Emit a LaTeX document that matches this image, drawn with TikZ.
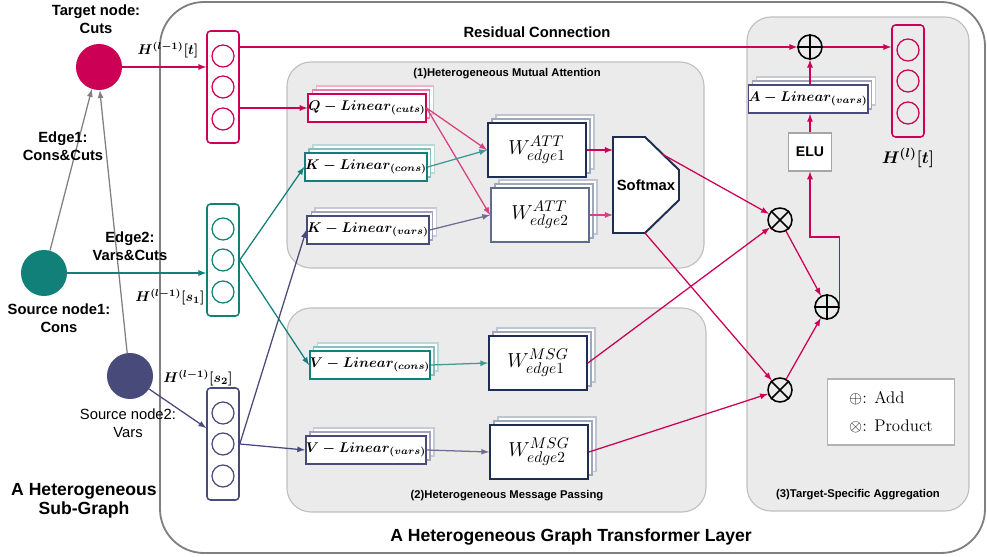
\documentclass[tikz,border=0pt]{standalone}
\usepackage{amsmath,amssymb}
\usepackage{fontspec}
\setsansfont{Liberation Sans}
\usetikzlibrary{calc,shadows}

\definecolor{cutred}{RGB}{204,0,85}
\definecolor{consteal}{RGB}{16,128,120}
\definecolor{varsnavy}{RGB}{72,74,122}
\definecolor{wnavy}{RGB}{30,46,82}
\definecolor{wslate}{RGB}{95,108,140}
\definecolor{panelgray}{RGB}{235,235,235}
\definecolor{linegray}{RGB}{128,128,128}

\newcommand{\lblfont}{\sffamily\bfseries\fontsize{10.5}{12.8}\selectfont}
\newcommand{\panelfont}{\sffamily\bfseries\fontsize{8}{10}\selectfont}
\newcommand{\titlefont}{\sffamily\bfseries\fontsize{12.5}{13.5}\selectfont}
\newcommand{\mathfont}{\boldmath\fontsize{10}{12}\selectfont}

\tikzset{
  gnode/.style={circle,fill=#1,minimum size=1.15cm,inner sep=0pt},
  lbl/.style={font=\lblfont,align=center},
  vecbox/.style={draw=#1,rounded corners=2.5pt,line width=1.1pt,minimum width=0.8cm,minimum height=2.8cm,inner sep=0pt},
  unit/.style={draw=#1,circle,line width=0.9pt,minimum size=0.55cm,inner sep=0pt},
  linbox/.style={draw=#1,fill=white,line width=1.3pt,minimum width=2.85cm,minimum height=0.7cm,inner sep=0pt,font=\mathfont,
    copy shadow={shadow xshift=5.6pt,shadow yshift=5.6pt,draw=#1!30,fill=white,line width=0.9pt},
    copy shadow={shadow xshift=2.8pt,shadow yshift=2.8pt,draw=#1!50,fill=white,line width=0.9pt}},
  wbox/.style={draw=#1,fill=white,line width=1.3pt,minimum width=2.45cm,minimum height=1.35cm,inner sep=0pt,font=\fontsize{15}{17}\selectfont,
    copy shadow={shadow xshift=5.6pt,shadow yshift=5.6pt,draw=wslate!40,fill=white,line width=0.9pt},
    copy shadow={shadow xshift=2.8pt,shadow yshift=2.8pt,draw=wslate!60,fill=white,line width=0.9pt}},
  panel/.style={fill=panelgray,draw=black!25,line width=0.8pt,rounded corners=0.6cm},
  op/.style={circle,draw,line width=1.1pt,minimum size=0.6cm,inner sep=0pt},
  arr/.style={-latex,line width=0.9pt},
}

\begin{document}
\begin{tikzpicture}[x=0.025cm,y=-0.025cm]
\useasboundingbox (0,0) rectangle (987,557);
% frames
\draw[linegray,line width=1.3pt,rounded corners=1.1cm] (160,2) rectangle (985,553);
\draw[panel] (287,62) rectangle (704,268);
\draw[panel] (287,308) rectangle (706,512);
\draw[panel] (747,17) rectangle (969,511);
\node[font=\panelfont] (attlbl) at (507,74) {(1)Heterogeneous Mutual Attention};
\node[font=\panelfont] (msglbl) at (507,496) {(2)Heterogeneous Message Passing};
\node[font=\panelfont] (agglbl) at (858,495) {(3)Target-Specific Aggregation};
\node[font=\titlefont] (layerlbl) at (571,537) {A Heterogeneous Graph Transformer Layer};
\node[font=\titlefont,align=center] (sublbl) at (84,501) {A Heterogeneous\\Sub-Graph};
\node[font=\lblfont] (reslbl) at (537,32) {Residual Connection};

% sub-graph
\node[gnode=cutred] (tgt) at (99,67) {};
\node[gnode=consteal] (src1) at (44,273) {};
\node[gnode=varsnavy] (src2) at (130,376) {};
\node[lbl] (tgtlbl) at (96,19) {Target node:\\Cuts};
\node[lbl] (src1lbl) at (59,318) {Source node1:\\Cons};
\node[lbl,font=\sffamily\fontsize{10.5}{12.8}\selectfont] (src2lbl) at (128,423) {Source node2:\\Vars};
\draw[arr,linegray] (src1.75) -- (tgt.252);
\draw[arr,linegray] (src2.97) -- (tgt.272);
\node[lbl] (e1lbl) at (63,146) {Edge1:\\Cons\&Cuts};
\node[lbl] (e2lbl) at (130,246) {Edge2:\\Vars\&Cuts};

% hidden vectors
\node[vecbox=cutred] (tvec) at (223,87) {};
\node[vecbox=consteal] (s1vec) at (223,260) {};
\node[vecbox=varsnavy] (s2vec) at (223,444) {};
\node[vecbox=cutred] (hvec) at (908,81) {};
\foreach \v/\c in {tvec/cutred,s1vec/consteal,s2vec/varsnavy,hvec/cutred}
  \foreach \i/\dy in {1/-31,2/0,3/32}
    \node[unit=\c] (\v-\i) at ($(\v)+(0,\dy)$) {};
\node[font=\mathfont] (htlbl) at (168,50) {$H^{(l-1)}[t]$};
\node[font=\mathfont] (hs1lbl) at (170,297) {$H^{(l-1)}[s_1]$};
\node[font=\mathfont] (hs2lbl) at (198,378) {$H^{(l-1)}[s_2]$};
\node[font=\boldmath\fontsize{13}{15}\selectfont] (hlbl) at (908,158) {$H^{(l)}[t]$};

% linear layers
\node[linbox=cutred] (qlin) at (367,108) {$Q-Linear_{(cuts)}$};
\node[linbox=consteal] (kcons) at (366,167) {$K-Linear_{(cons)}$};
\node[linbox=varsnavy] (kvars) at (368,230) {$K-Linear_{(vars)}$};
\node[linbox=consteal] (vcons) at (370,365) {$V-Linear_{(cons)}$};
\node[linbox=varsnavy] (vvars) at (366,450) {$V-Linear_{(vars)}$};
\node[linbox=varsnavy] (alin) at (808,99) {$A-Linear_{(vars)}$};

% edge weights
\node[wbox=wnavy] (wa1) at (537,150) {$W^{ATT}_{edge1}$};
\node[wbox=wslate] (wa2) at (540,215) {$W^{ATT}_{edge2}$};
\node[wbox=wnavy] (wm1) at (538,363) {$W^{MSG}_{edge1}$};
\node[wbox=wnavy] (wm2) at (539,452) {$W^{MSG}_{edge2}$};

% softmax
\draw[wnavy,fill=white,line width=1.4pt] (613,137) -- (645,137) -- (679,170) -- (679,200) -- (645,233) -- (613,233) -- cycle;
\node[font=\sffamily\bfseries\fontsize{10.5}{12}\selectfont,minimum width=1.65cm,minimum height=2.4cm,inner sep=0pt] (smax) at (646,185) {Softmax};
\coordinate (smax-o1) at (662,154);
\coordinate (smax-o2) at (645,233);

% aggregation
\node[op] (plusT) at (810,47) {};
\node[op] (times1) at (780,220) {};
\node[op] (plusM) at (827,307) {};
\node[op] (times2) at (780,390) {};
\draw[line width=1.1pt] (plusT.north) -- (plusT.south) (plusT.west) -- (plusT.east)
  (plusM.north) -- (plusM.south) (plusM.west) -- (plusM.east)
  (times1.45) -- (times1.225) (times1.135) -- (times1.315)
  (times2.45) -- (times2.225) (times2.135) -- (times2.315);
\node[draw=black!35,fill=white,line width=0.8pt,minimum width=1.075cm,minimum height=0.95cm,font=\sffamily\bfseries\fontsize{10}{12}\selectfont] (elu) at (810,152) {ELU};
\node[draw=black!30,fill=white,line width=0.8pt,minimum width=3.175cm,minimum height=1.65cm,align=left,font=\fontsize{12}{20}\selectfont] (legend) at (891,412) {$\oplus$: Add\\$\otimes$: Product};

% connectors
\draw[arr,cutred] (tgt) -- (tgt -| tvec.west);
\draw[arr,consteal] (src1) -- (src1 -| s1vec.west);
\draw[arr,varsnavy] (src2) -- ($(s2vec.west)+(0,-16)$);
\draw[arr,cutred] (plusT -| tvec.east) -- (plusT);
\draw[arr,cutred] (qlin -| tvec.east) -- (qlin.west);
\draw[arr,cutred!75] (qlin.east) -- (wa1.west);
\draw[arr,cutred!75] (qlin.east) -- (wa2.west);
\draw[arr,consteal!80] (kcons.east) -- (wa1.west);
\draw[arr,varsnavy!80] (kvars.east) -- (wa2.west);
\draw[arr,consteal] (s1vec.east) -- (kcons.west);
\draw[arr,consteal] (s1vec.east) -- (vcons.west);
\draw[arr,varsnavy] (s2vec.east) -- (kvars.west);
\draw[arr,varsnavy] (s2vec.east) -- (vvars.west);
\draw[arr,consteal!80] (vcons.east) -- (wm1.west);
\draw[arr,varsnavy!80] (vvars.east) -- (wm2.west);
\draw[arr,cutred] (wa1.east) -- (wa1.east -| smax.west);
\draw[arr,cutred!75] (wa2.east) -- (wa2.east -| smax.west);
\draw[arr,cutred] (smax-o1) -- (times1);
\draw[arr,cutred] (wm1.east) -- (times1);
\draw[arr,cutred] (smax-o2) -- (times2);
\draw[arr,cutred] (wm2.east) -- (times2);
\draw[arr,cutred] (times1) -- (plusM);
\draw[arr,cutred] (times2) -- (plusM);
\draw[arr,cutred] (plusM.east) -- ++(0,-70) -| (elu.south);
\draw[arr,cutred] (elu.north) -- (elu.north |- alin.south);
\draw[arr,cutred] (plusT |- alin.north) -- (plusT);
\draw[arr,cutred] (plusT) -- (hvec.west |- plusT);
\end{tikzpicture}
\end{document}
